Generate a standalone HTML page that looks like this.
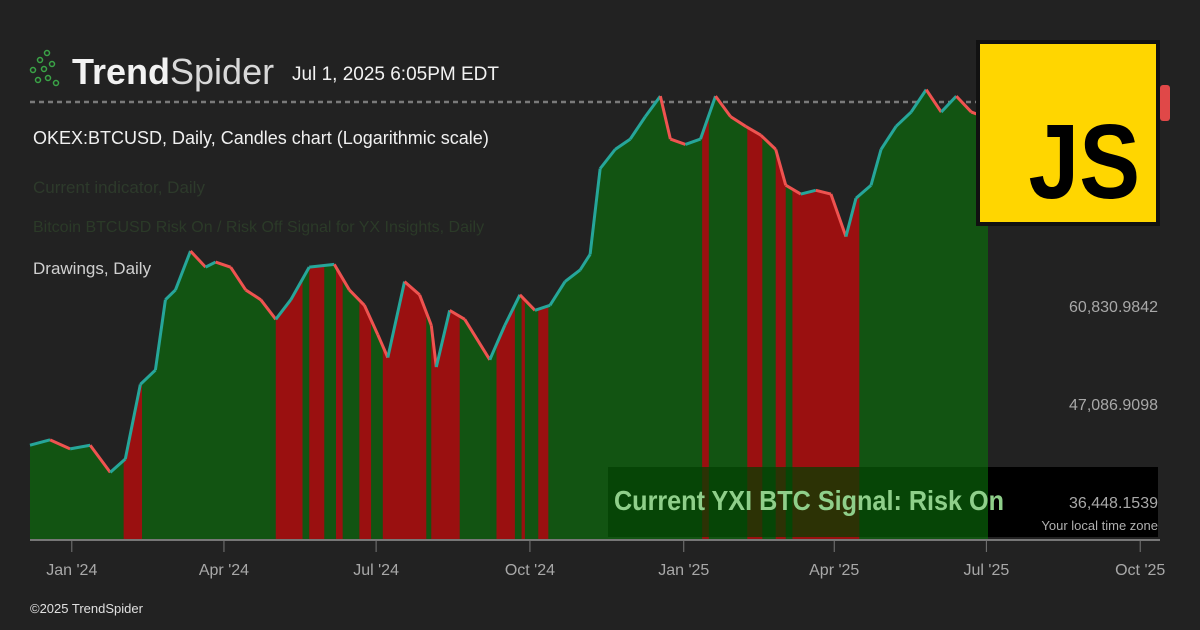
<!DOCTYPE html>
<html><head><meta charset="utf-8">
<style>
html,body{margin:0;padding:0;background:#222;}
body{width:1200px;height:630px;overflow:hidden;position:relative;font-family:"Liberation Sans",sans-serif;}
svg{position:absolute;left:0;top:0;}
</style></head>
<body>
<svg id="chart" width="1200" height="630">
  <rect width="1200" height="630" fill="#222222"/>
  <g fill="none" stroke="#3aa447" stroke-width="1.5">
    <circle cx="33" cy="70" r="2.5"/><circle cx="40" cy="60" r="2.5"/><circle cx="47" cy="53" r="2.5"/>
    <circle cx="44" cy="69" r="2.5"/><circle cx="52" cy="64" r="2.5"/><circle cx="38" cy="80" r="2.5"/>
    <circle cx="48" cy="78" r="2.5"/><circle cx="56" cy="83" r="2.5"/>
  </g>
  <text x="72" y="84" font-size="36" fill="#f2f2f2"><tspan font-weight="bold">Trend</tspan><tspan fill="#d8d8d8">Spider</tspan></text>
  <text x="292" y="80" font-size="19" fill="#f2f2f2">Jul 1, 2025 6:05PM EDT</text>
  <line x1="30" y1="102" x2="980" y2="102" stroke="#7a7a7a" stroke-width="2.5" stroke-dasharray="5 4"/>
  <text x="33" y="144" font-size="18" fill="#f0f0f0">OKEX:BTCUSD, Daily, Candles chart (Logarithmic scale)</text>
  <text x="33" y="193" font-size="17" fill="#2d3a2b">Current indicator, Daily</text>
  <text x="33" y="232" font-size="16" fill="#2b3a28">Bitcoin BTCUSD Risk On / Risk Off Signal for YX Insights, Daily</text>
  <text x="33" y="274" font-size="17" fill="#d0d0d0">Drawings, Daily</text>
  <defs><clipPath id="areaClip"><path id="areaPath"/></clipPath></defs>
  <g id="fills" clip-path="url(#areaClip)"></g>
  <g id="lines"></g>
  <line x1="30" y1="540" x2="1160" y2="540" stroke="#777" stroke-width="2"/>
  <g id="xaxis"></g>
  <g id="yaxis"></g>
  <rect x="608" y="467" width="380" height="70" fill="#024002" opacity="0.72"/>
  <rect x="988" y="467" width="170" height="70" fill="#000"/>
  <text x="614" y="510" font-size="28" font-weight="bold" fill="#8fcf8a" transform="translate(614 0) scale(0.9 1) translate(-614 0)">Current YXI BTC Signal: Risk On</text>
  <text x="1158" y="312" font-size="16" fill="#a8a8a8" text-anchor="end">60,830.9842</text>
  <text x="1158" y="410" font-size="16" fill="#a8a8a8" text-anchor="end">47,086.9098</text>
  <text x="1158" y="508" font-size="16" fill="#a8a8a8" text-anchor="end">36,448.1539</text>
  <text x="1158" y="530" font-size="13" fill="#b0b0b0" text-anchor="end">Your local time zone</text>
  <rect x="1160" y="85" width="10" height="36" rx="3" fill="#e04848"/>
  <g>
    <rect x="978" y="42" width="180" height="182" fill="#ffd600" stroke="#111" stroke-width="4"/>
    <text x="1140" y="198" font-size="106" font-weight="bold" fill="#000" text-anchor="end" transform="translate(1140 0) scale(0.86 1) translate(-1140 0)">JS</text>
  </g>
  <text x="30" y="613" font-size="13" fill="#e0e0e0">©2025 TrendSpider</text>
</svg>
<script>
// price series: day offset from Dec 7 2023, close price (USD)
const days = [0,12,24,36,48,57,66,75,81,87,96,105,111,120,129,138,147,156,167,182,191,200,208,214,224,233,240,243,251,260,275,284,293,302,311,320,329,335,341,350,359,368,377,383,392,401,410,419,428,437,446,452,461,470,479,488,494,503,509,518,527,536,545,554,563,573];
const prices = [42400,43000,42000,42400,39500,40900,49700,51600,62000,63600,70400,67500,68400,67500,63600,62000,58900,62000,67500,68000,63600,61100,56600,53300,65000,62800,58000,52000,60300,58900,53000,58000,62800,60300,61100,65000,67000,69800,87300,91800,94300,100000,105500,94300,93000,94300,105500,100000,97500,95300,91800,83600,81700,82500,81700,73100,80800,83600,91800,97500,101200,107300,101200,105500,101200,99600];
const riskOffStart = [56,147,167,183,197,211,240,279,294,304,402,429,446,456];
const riskOffEnd = [67,163,176,187,204,237,257,290,296,310,406,438,452,496];
const tickLabels = ["Jan '24","Apr '24","Jul '24","Oct '24","Jan '25","Apr '25","Jul '25","Oct '25"];
const tickDays = [25,116,207,299,391,481,572,664];

const NS="http://www.w3.org/2000/svg";
const xOf = d => 30 + d*1.672;
const yOf = p => 307 - 383*Math.log(p/60830);
const base = 540;

let path = "M"+xOf(days[0])+","+base;
for(let i=0;i<days.length;i++) path += " L"+xOf(days[i])+","+yOf(prices[i]);
path += " L"+xOf(days[days.length-1])+","+base+" Z";
document.getElementById('areaPath').setAttribute('d',path);

const fills=document.getElementById('fills');
const g=document.createElementNS(NS,'rect');
g.setAttribute('x',xOf(0));g.setAttribute('y',60);g.setAttribute('width',xOf(days[days.length-1])-xOf(0));g.setAttribute('height',480);g.setAttribute('fill','#125412');


fills.appendChild(g);
for(let i=0;i<riskOffStart.length;i++){
  const r=document.createElementNS(NS,'rect');
  r.setAttribute('x',xOf(riskOffStart[i]));r.setAttribute('y',60);
  r.setAttribute('width',xOf(riskOffEnd[i])-xOf(riskOffStart[i]));r.setAttribute('height',480);
  r.setAttribute('fill','#9a1010');
  
  
  fills.appendChild(r);
}
const lines=document.getElementById('lines');
for(let i=1;i<days.length;i++){
  const l=document.createElementNS(NS,'line');
  l.setAttribute('x1',xOf(days[i-1]));l.setAttribute('y1',yOf(prices[i-1]));
  l.setAttribute('x2',xOf(days[i]));l.setAttribute('y2',yOf(prices[i]));
  l.setAttribute('stroke',prices[i]>=prices[i-1]?'#26a69a':'#ef5350');
  l.setAttribute('stroke-width','3');
  
  
  lines.appendChild(l);
}
const xa=document.getElementById('xaxis');
for(let i=0;i<tickLabels.length;i++){
  const x=xOf(tickDays[i]);
  const t=document.createElementNS(NS,'line');
  t.setAttribute('x1',x);t.setAttribute('x2',x);t.setAttribute('y1',540);t.setAttribute('y2',552);t.setAttribute('stroke','#777');
  
  
  xa.appendChild(t);
  const tx=document.createElementNS(NS,'text');
  tx.setAttribute('x',x);tx.setAttribute('y',575);tx.setAttribute('fill','#a8a8a8');tx.setAttribute('font-size','16');tx.setAttribute('text-anchor','middle');
  tx.textContent=tickLabels[i];
  
  
  xa.appendChild(tx);
}
</script>
</body></html>
